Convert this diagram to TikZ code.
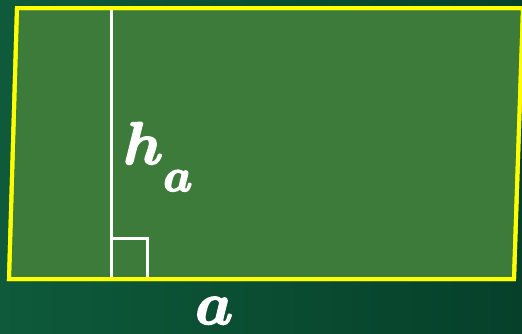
\RequirePackage{fix-cm}
\documentclass[tikz,border=0pt]{standalone}
\usepackage{bm}
\definecolor{boardL}{HTML}{0E5A3A}
\definecolor{boardR}{HTML}{06402A}
\definecolor{shapefill}{HTML}{3D7B3B}
\definecolor{edge}{HTML}{FFFF00}
\newcommand{\heavy}[1]{\special{pdf:literal direct 2 Tr 1.6 w}#1\special{pdf:literal direct 0 Tr}}
\tikzset{
  outline/.style={draw=edge, line width=4pt, fill=shapefill, line join=miter},
  helper/.style={draw=white, line width=3pt},
  lbl/.style={text=white, inner sep=0pt, anchor=base west, font=\fontsize{60}{70}\selectfont}
}
\begin{document}
\begin{tikzpicture}[x=1pt,y=-1pt]
  \shade[left color=boardL, right color=boardR] (0,0) rectangle (522,333);
  \useasboundingbox (0,0) rectangle (522,333);
  \coordinate (TL) at (17,8);
  \coordinate (TR) at (523,8);
  \coordinate (BR) at (514,279);
  \coordinate (BL) at (9,279);
  \coordinate (HT) at (111,8);
  \coordinate (HB) at (111,277);
  \coordinate (SQa) at (111,238);
  \coordinate (SQb) at (147,238);
  \coordinate (SQc) at (147,277);
  \draw[outline] (TL) -- (TR) -- (BR) -- (BL) -- cycle;
  \draw[helper] (HT) -- (HB);
  \draw[helper] (SQa) -- (SQb) -- (SQc);
  \draw[outline, fill=none] (TL) -- (TR) -- (BR) -- (BL) -- cycle;
  \node[lbl] (hlabel) at (123,164) {\heavy{$\bm{h}$\raisebox{-27pt}{\fontsize{46}{50}\selectfont$\bm{a}$}}};
  \node[lbl] (alabel) at (195,324) {\heavy{$\bm{a}$}};
\end{tikzpicture}
\end{document}
